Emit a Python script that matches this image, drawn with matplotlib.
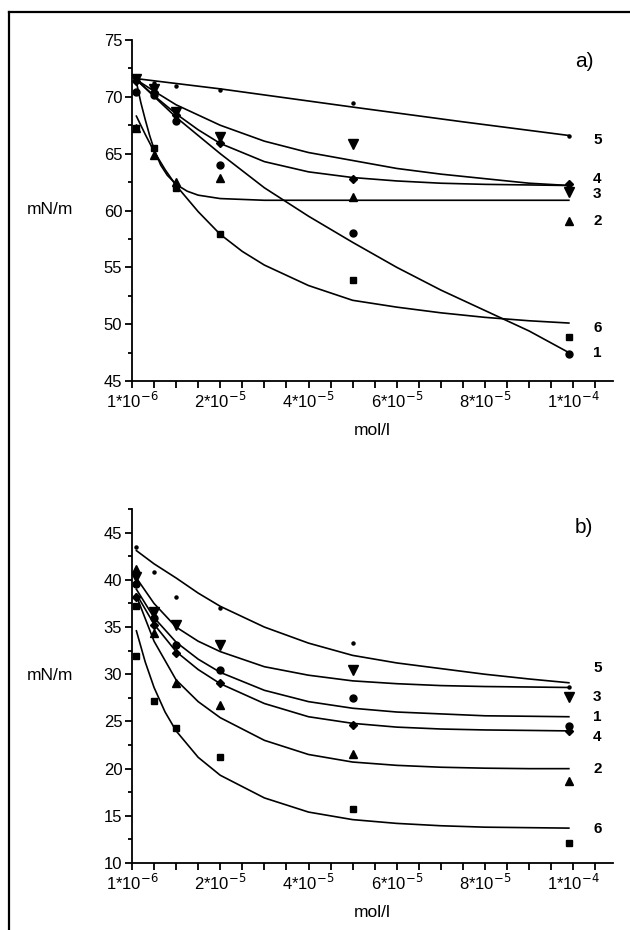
import matplotlib
matplotlib.use('Agg')
import matplotlib.pyplot as plt
from matplotlib.lines import Line2D
from matplotlib.ticker import MultipleLocator, FixedLocator

plt.rcParams['font.family'] = ['Liberation Sans', 'DejaVu Sans']

# measured concentrations (mol/l)
conc = [1e-6, 5e-6, 1e-5, 2e-5, 5e-5, 9.9e-5]

# ---- panel a) points, mN/m
a_pts = {
    '1': [70.4, 70.2, 67.9, 64.0, 58.0, 47.4],
    '2': [67.3, 64.9, 62.5, 62.9, 61.2, 59.1],
    '3': [71.6, 70.7, 68.7, 66.5, 65.85, 61.6],
    '4': [71.4, 70.4, 68.4, 65.9, 62.8, 62.3],
    '5': [71.7, 71.2, 70.95, 70.6, 69.5, 66.55],
    '6': [67.3, 65.5, 62.0, 57.9, 53.9, 48.9],
}
# fitted curves
a_fit_x = {
    '1': [1e-6, 1e-5, 2e-5, 3e-5, 4e-5, 5e-5, 6e-5, 7e-5, 8e-5, 9e-5, 9.9e-5],
    '2': [1e-6, 2e-6, 3e-6, 4e-6, 5e-6, 6.5e-6, 8e-6, 1e-5, 1.25e-5, 1.5e-5, 2e-5, 3e-5, 9.9e-5],
    '3': [1e-6, 5e-6, 1e-5, 2e-5, 3e-5, 4e-5, 5e-5, 6e-5, 7e-5, 8e-5, 9e-5, 9.9e-5],
    '4': [1e-6, 5e-6, 1e-5, 1.5e-5, 2e-5, 3e-5, 4e-5, 5e-5, 6e-5, 7e-5, 8e-5, 9.9e-5],
    '5': [1e-6, 2e-5, 5e-5, 7.5e-5, 9.9e-5],
    '6': [1e-6, 3e-6, 5e-6, 7.5e-6, 1e-5, 1.5e-5, 2e-5, 2.5e-5, 3e-5, 4e-5, 5e-5, 6e-5, 7e-5, 8e-5, 9e-5, 9.9e-5],
}
a_fit_y = {
    '1': [71.5, 68.2, 65.0, 62.0, 59.5, 57.2, 55.0, 53.0, 51.2, 49.4, 47.5],
    '2': [71.3, 69.5, 68.0, 66.6, 65.4, 64.0, 63.1, 62.3, 61.7, 61.35, 61.05, 60.9, 60.9],
    '3': [71.5, 70.5, 69.3, 67.5, 66.1, 65.1, 64.4, 63.7, 63.2, 62.8, 62.4, 62.2],
    '4': [71.5, 70.1, 68.5, 67.1, 65.9, 64.3, 63.4, 62.9, 62.6, 62.4, 62.3, 62.2],
    '5': [71.6, 70.7, 69.1, 67.8, 66.6],
    '6': [68.3, 66.7, 65.2, 63.6, 62.2, 59.9, 57.9, 56.4, 55.2, 53.4, 52.1, 51.5, 51.0, 50.6, 50.3, 50.1],
}
a_lab_y = {'5': 66.2, '4': 62.8, '3': 61.45, '2': 59.1, '6': 49.7, '1': 47.5}

# ---- panel b) points, mN/m
b_pts = {
    '1': [39.6, 36.0, 33.1, 30.5, 27.5, 24.5],
    '2': [41.2, 34.4, 29.1, 26.7, 21.5, 18.7],
    '3': [40.3, 36.6, 35.2, 33.1, 30.4, 27.6],
    '4': [38.2, 35.2, 32.2, 29.1, 24.6, 24.0],
    '5': [43.5, 40.8, 38.2, 37.0, 33.3, 28.6],
    '6': [37.2, 27.2, 24.3, 21.2, 15.7, 12.1],
}
b6_extra = [31.9]
b_fit_x = [1e-6, 5e-6, 1e-5, 1.5e-5, 2e-5, 3e-5, 4e-5, 5e-5, 6e-5, 7e-5, 8e-5, 9e-5, 9.9e-5]
b_fit_y = {
    '1': [39.0, 36.0, 33.4, 31.6, 30.2, 28.3, 27.1, 26.4, 26.0, 25.8, 25.6, 25.55, 25.5],
    '2': [38.3, 33.5, 29.4, 27.1, 25.4, 23.0, 21.5, 20.7, 20.35, 20.15, 20.05, 20.0, 20.0],
    '3': [40.2, 37.5, 35.0, 33.5, 32.4, 30.8, 29.9, 29.3, 29.0, 28.8, 28.7, 28.65, 28.6],
    '4': [38.5, 35.3, 32.4, 30.5, 29.0, 26.9, 25.5, 24.8, 24.4, 24.2, 24.1, 24.05, 24.0],
    '5': [43.1, 41.7, 40.2, 38.6, 37.2, 35.0, 33.3, 32.0, 31.2, 30.6, 30.0, 29.5, 29.1],
}
b6_fit_x = [1e-6, 3e-6, 5e-6, 7.5e-6, 1e-5, 1.5e-5, 2e-5, 3e-5, 4e-5, 5e-5, 6e-5, 7e-5, 8e-5, 9.9e-5]
b6_fit_y = [34.6, 31.3, 28.6, 26.0, 24.0, 21.2, 19.3, 16.9, 15.4, 14.6, 14.2, 13.95, 13.8, 13.7]
b_lab_y = {'5': 30.7, '3': 27.6, '1': 25.5, '4': 23.4, '2': 20.0, '6': 13.6}

xtick_vals = [0, 2e-5, 4e-5, 6e-5, 8e-5, 1e-4]
xtick_labels = [r'1*10$^{-6}$', r'2*10$^{-5}$', r'4*10$^{-5}$',
                r'6*10$^{-5}$', r'8*10$^{-5}$', r'1*10$^{-4}$']

markers = {'1': ('o', 5), '2': ('^', 6), '3': ('v', 6.5),
           '4': ('D', 4.5), '5': ('o', 2.2), '6': ('s', 4.5)}


def style_axes(ax, ylim, ymajor):
    ax.set_xlim(0, 1.09e-4)
    ax.set_ylim(*ylim)
    for s in ['top', 'right']:
        ax.spines[s].set_visible(False)
    for s in ['left', 'bottom']:
        ax.spines[s].set_linewidth(1.3)
    ax.xaxis.set_major_locator(FixedLocator(xtick_vals))
    ax.set_xticklabels(xtick_labels)
    ax.xaxis.set_minor_locator(MultipleLocator(5e-6))
    ax.yaxis.set_major_locator(MultipleLocator(ymajor))
    ax.yaxis.set_minor_locator(MultipleLocator(ymajor / 2))
    ax.tick_params(which='major', direction='out', length=5, width=1.3,
                   labelsize=12, pad=2)
    ax.tick_params(which='minor', direction='out', length=5, width=1.3)
    ax.tick_params(axis='y', which='minor', length=3)
    ax.set_xlabel('mol/l', fontsize=12.5, labelpad=9)


fig = plt.figure(figsize=(6.3, 9.3), dpi=100)

# outer frame (left and top edges show)
fig.add_artist(Line2D([0.014, 0.014], [0.0, 0.987], color='black', lw=1.6))
fig.add_artist(Line2D([0.014, 1.0], [0.987, 0.987], color='black', lw=1.6))

# panel a
ax1 = fig.add_axes([0.2095, 0.5903, 0.7635, 0.3667])
style_axes(ax1, (45, 75), 5)
for k in ['1', '2', '3', '4', '5', '6']:
    ax1.plot(a_fit_x[k], a_fit_y[k], color='black', lw=1.2)
for k in ['1', '2', '3', '4', '5', '6']:
    m, ms = markers[k]
    ax1.plot(conc, a_pts[k], linestyle='none', marker=m, ms=ms, color='black')
    ax1.text(1.045e-4, a_lab_y[k], k, fontsize=11, fontweight='bold',
             ha='left', va='center')
ax1.text(1.025e-4, 73.15, 'a)', fontsize=15, ha='center', va='center')
fig.text(0.08, 1 - 210 / 930, 'mN/m', fontsize=12.5, ha='center', va='center')

# panel b
ax2 = fig.add_axes([0.2095, 0.072, 0.7635, 0.3806])
style_axes(ax2, (10, 47.5), 5)
for k in ['1', '2', '3', '4', '5']:
    ax2.plot(b_fit_x, b_fit_y[k], color='black', lw=1.2)
ax2.plot(b6_fit_x, b6_fit_y, color='black', lw=1.2)
for k in ['1', '2', '3', '4', '5', '6']:
    m, ms = markers[k]
    ax2.plot(conc, b_pts[k], linestyle='none', marker=m, ms=ms, color='black')
    ax2.text(1.045e-4, b_lab_y[k], k, fontsize=11, fontweight='bold',
             ha='left', va='center')
ax2.plot(conc[:1], b6_extra, linestyle='none', marker='s', ms=4.5, color='black')
ax2.text(1.025e-4, 45.5, 'b)', fontsize=15, ha='center', va='center')
fig.text(0.08, 1 - 675 / 930, 'mN/m', fontsize=12.5, ha='center', va='center')

fig.savefig('out.png', dpi=100)
